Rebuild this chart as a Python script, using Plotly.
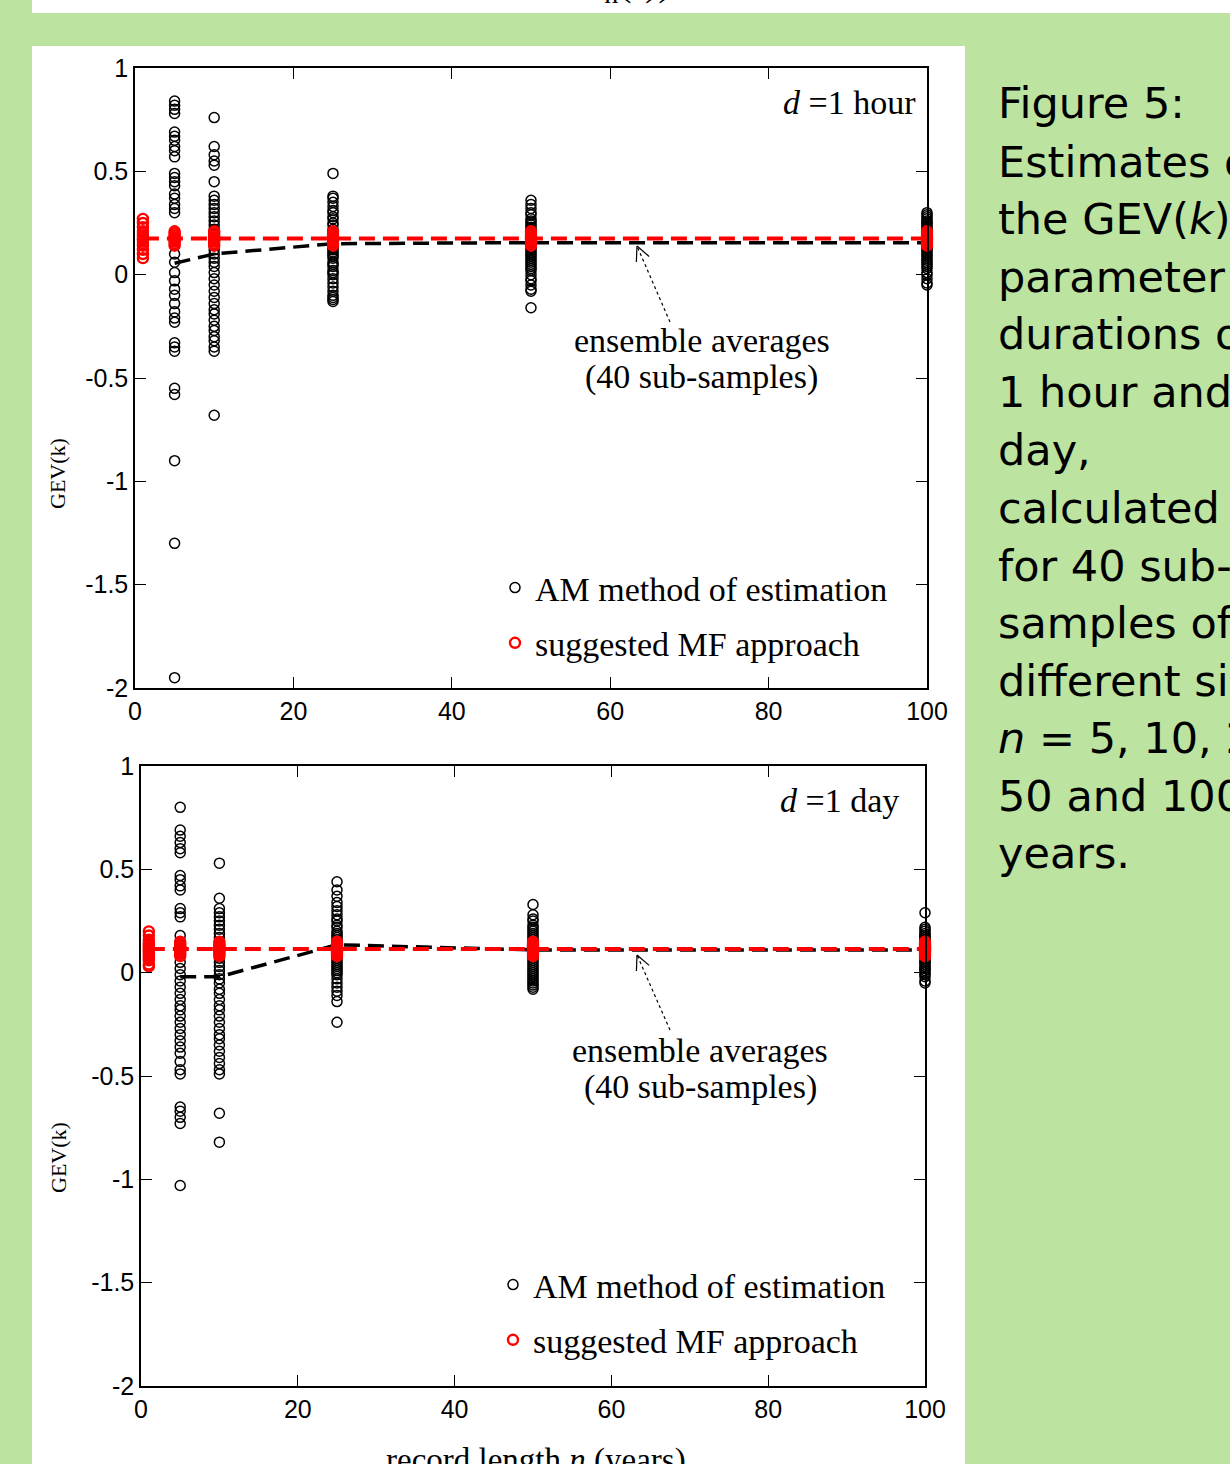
import math
import plotly.graph_objects as go

# ---------------- data ----------------
record_lengths = [5, 10, 25, 50, 100]
mf_extra_x = 1

# d = 1 hour : AM estimates of GEV(k) for 40 sub-samples at each record length
am_hour_n5 = [0.84, 0.82, 0.80, 0.78, 0.69, 0.67, 0.65, 0.62, 0.60, 0.57, 0.49, 0.47, 0.45, 0.43,
              0.39, 0.37, 0.34, 0.32, 0.30, 0.20, 0.18, 0.16, 0.10, 0.06, 0.01, -0.03, -0.07, -0.10,
              -0.14, -0.18, -0.21, -0.23, -0.33, -0.35, -0.37, -0.55, -0.58, -0.90, -1.30, -1.95]
am_hour_n10 = [0.76, 0.62, 0.58, 0.55, 0.53, 0.45, 0.38, 0.36, 0.34, 0.32, 0.30, 0.28, 0.26, 0.24,
               0.22, 0.20, 0.18, 0.16, 0.14, 0.12, 0.10, 0.08, 0.06, 0.04, 0.01, -0.02, -0.05, -0.08,
               -0.11, -0.14, -0.17, -0.19, -0.22, -0.25, -0.27, -0.30, -0.32, -0.35, -0.37, -0.68]
am_hour_n25 = [0.49, 0.38, 0.37, 0.35, 0.33, 0.31, 0.30, 0.28, 0.27, 0.25, 0.24, 0.22, 0.21, 0.20,
               0.19, 0.18, 0.17, 0.16, 0.15, 0.14, 0.13, 0.12, 0.11, 0.10, 0.09, 0.08, 0.06, 0.05,
               0.04, 0.02, 0.01, 0.00, -0.02, -0.04, -0.06, -0.08, -0.10, -0.11, -0.12, -0.13]
am_hour_n50 = [0.36, 0.34, 0.32, 0.30, 0.29, 0.27, 0.26, 0.25, 0.24, 0.23, 0.22, 0.21, 0.20, 0.19,
               0.18, 0.17, 0.17, 0.16, 0.15, 0.15, 0.14, 0.13, 0.12, 0.11, 0.10, 0.09, 0.08, 0.07,
               0.06, 0.05, 0.04, 0.03, 0.02, 0.00, -0.02, -0.03, -0.05, -0.07, -0.08, -0.16]
am_hour_n100 = [0.30, 0.29, 0.28, 0.27, 0.26, 0.25, 0.25, 0.24, 0.23, 0.22, 0.22, 0.21, 0.20, 0.20,
                0.19, 0.18, 0.18, 0.17, 0.16, 0.16, 0.15, 0.15, 0.14, 0.13, 0.13, 0.12, 0.11, 0.10,
                0.09, 0.08, 0.07, 0.06, 0.05, 0.04, 0.03, 0.01, 0.00, -0.02, -0.04, -0.05]
ens_avg_hour = [0.055, 0.10, 0.15, 0.155, 0.155]
mf_hour_x1 = [0.27, 0.25, 0.23, 0.21, 0.20, 0.19, 0.18, 0.17, 0.17, 0.16, 0.15, 0.14, 0.12, 0.10, 0.08]
mf_hour_at_n = [0.21, 0.20, 0.19, 0.18, 0.18, 0.17, 0.17, 0.16, 0.15, 0.14]
mf_line_hour = [0.175, 0.175, 0.175, 0.175, 0.175, 0.175]

# d = 1 day
am_day_n5 = [0.80, 0.69, 0.66, 0.63, 0.60, 0.58, 0.47, 0.45, 0.42, 0.40, 0.31, 0.29, 0.27, 0.18,
             0.15, 0.12, 0.05, 0.02, -0.01, -0.04, -0.07, -0.10, -0.13, -0.16, -0.18, -0.21, -0.24,
             -0.27, -0.30, -0.33, -0.36, -0.39, -0.43, -0.47, -0.49, -0.65, -0.67, -0.70, -0.73, -1.03]
am_day_n10 = [0.53, 0.36, 0.31, 0.29, 0.27, 0.25, 0.23, 0.21, 0.19, 0.17, 0.15, 0.13, 0.12, 0.11,
              0.09, 0.07, 0.05, 0.03, 0.01, -0.01, -0.03, -0.05, -0.08, -0.10, -0.13, -0.16, -0.18,
              -0.21, -0.24, -0.27, -0.30, -0.32, -0.35, -0.38, -0.41, -0.44, -0.47, -0.49, -0.68, -0.82]
am_day_n25 = [0.44, 0.40, 0.37, 0.34, 0.32, 0.30, 0.28, 0.26, 0.25, 0.23, 0.22, 0.20, 0.19, 0.18,
              0.17, 0.16, 0.15, 0.14, 0.13, 0.12, 0.11, 0.10, 0.09, 0.08, 0.07, 0.06, 0.05, 0.04,
              0.03, 0.02, 0.01, 0.00, -0.01, -0.03, -0.05, -0.07, -0.09, -0.11, -0.14, -0.24]
am_day_n50 = [0.33, 0.28, 0.26, 0.25, 0.23, 0.22, 0.21, 0.20, 0.19, 0.18, 0.17, 0.16, 0.15, 0.14,
              0.14, 0.13, 0.12, 0.12, 0.11, 0.10, 0.10, 0.09, 0.08, 0.08, 0.07, 0.06, 0.05, 0.04,
              0.03, 0.02, 0.01, 0.00, -0.01, -0.02, -0.03, -0.04, -0.05, -0.06, -0.07, -0.08]
am_day_n100 = [0.29, 0.22, 0.21, 0.20, 0.19, 0.18, 0.18, 0.17, 0.16, 0.16, 0.15, 0.15, 0.14, 0.14,
               0.13, 0.13, 0.12, 0.12, 0.11, 0.11, 0.10, 0.10, 0.09, 0.09, 0.08, 0.08, 0.07, 0.06,
               0.05, 0.05, 0.04, 0.03, 0.02, 0.02, 0.01, 0.00, -0.01, -0.02, -0.04, -0.05]
ens_avg_day = [-0.02, -0.02, 0.135, 0.11, 0.11]
mf_day_x1 = [0.20, 0.18, 0.16, 0.15, 0.14, 0.13, 0.12, 0.11, 0.10, 0.09, 0.08, 0.07, 0.06, 0.04, 0.03]
mf_day_at_n = [0.15, 0.14, 0.13, 0.12, 0.12, 0.11, 0.11, 0.10, 0.09, 0.08]
mf_line_day = [0.115, 0.115, 0.115, 0.115, 0.115, 0.115]

y_tickvals = [-2, -1.5, -1, -0.5, 0, 0.5, 1]
y_ticktext = ["-2", "-1.5", "-1", "-0.5", "0", "0.5", "1"]
x_tickvals = [0, 20, 40, 60, 80, 100]
x_ticktext = ["0", "20", "40", "60", "80", "100"]

side_text = ["Figure 5:", "Estimates of", "the GEV(<i>k</i>)", "parameter for", "durations of",
             "1 hour and 1", "day,", "calculated", "for 40 sub-", "samples of", "different sizes",
             "<i>n</i> = 5, 10, 25,", "50 and 100", "years."]

# ---------------- figure ----------------
W, H = 1230, 1464
def px(x): return x / W
def py(y): return 1 - y / H

SERIF = "Liberation Serif, Times New Roman, serif"
SANS = "Liberation Sans, Arial, sans-serif"
BG = "#bce3a0"

fig = go.Figure()

panels = [
    dict(am=[am_hour_n5, am_hour_n10, am_hour_n25, am_hour_n50, am_hour_n100],
         ens=ens_avg_hour, mf1=mf_hour_x1, mfn=mf_hour_at_n, mfl=mf_line_hour,
         xa="x", ya="y", legend="legend"),
    dict(am=[am_day_n5, am_day_n10, am_day_n25, am_day_n50, am_day_n100],
         ens=ens_avg_day, mf1=mf_day_x1, mfn=mf_day_at_n, mfl=mf_line_day,
         xa="x2", ya="y2", legend="legend2"),
]

for p in panels:
    xs, ys = [], []
    for n, vals in zip(record_lengths, p["am"]):
        xs += [n] * len(vals)
        ys += vals
    fig.add_trace(go.Scatter(
        x=xs, y=ys, mode="markers", name="AM method of estimation",
        marker=dict(symbol="circle-open", size=10, color="black", line=dict(width=1.5)),
        xaxis=p["xa"], yaxis=p["ya"], legend=p["legend"], legendgroup="am",
        cliponaxis=False))
    fig.add_trace(go.Scatter(
        x=record_lengths, y=p["ens"], mode="lines", showlegend=False,
        line=dict(color="black", width=3.5, dash="16px,8px"),
        xaxis=p["xa"], yaxis=p["ya"], cliponaxis=False))
    fig.add_trace(go.Scatter(
        x=[mf_extra_x] + record_lengths, y=p["mfl"], mode="lines", showlegend=False,
        line=dict(color="#ff0000", width=4, dash="16px,8px"),
        xaxis=p["xa"], yaxis=p["ya"], cliponaxis=False))
    mx, my = [mf_extra_x] * len(p["mf1"]), list(p["mf1"])
    for n in record_lengths:
        mx += [n] * len(p["mfn"])
        my += p["mfn"]
    fig.add_trace(go.Scatter(
        x=mx, y=my, mode="markers", name="suggested MF approach",
        marker=dict(symbol="circle-open", size=10, color="#ff0000", line=dict(width=2.4)),
        xaxis=p["xa"], yaxis=p["ya"], legend=p["legend"], legendgroup="mf",
        cliponaxis=False))

axis_common = dict(showline=True, linecolor="black", linewidth=1.5, mirror="ticks",
                   ticks="inside", ticklen=11, tickwidth=1.3, tickcolor="black",
                   showgrid=False, zeroline=False, automargin=False,
                   tickfont=dict(family=SANS, size=25, color="black"))

legend_common = dict(font=dict(family=SERIF, size=34, color="black"), bgcolor="rgba(0,0,0,0)",
                     traceorder="grouped", tracegroupgap=8, itemwidth=30,
                     xanchor="left", yanchor="top")

fig.update_layout(
    width=W, height=H, margin=dict(l=0, r=0, t=0, b=0, pad=0, autoexpand=False),
    paper_bgcolor=BG, plot_bgcolor="white",
    xaxis=dict(domain=[px(135), px(927)], anchor="y", range=[0, 100],
               tickvals=x_tickvals, ticktext=x_ticktext, **axis_common),
    yaxis=dict(domain=[py(688), py(68)], anchor="x", range=[-2, 1],
               tickvals=y_tickvals, ticktext=y_ticktext, **axis_common),
    xaxis2=dict(domain=[px(141), px(925)], anchor="y2", range=[0, 100],
                tickvals=x_tickvals, ticktext=x_ticktext, **axis_common),
    yaxis2=dict(domain=[py(1386), py(766)], anchor="x2", range=[-2, 1],
                tickvals=y_tickvals, ticktext=y_ticktext, **axis_common),
    legend=dict(x=px(495), y=py(559), **legend_common),
    legend2=dict(x=px(493), y=py(1256), **legend_common),
    showlegend=True,
)

shapes = [
    dict(type="rect", xref="paper", yref="paper", x0=px(32), x1=1, y0=py(13), y1=1,
         fillcolor="white", line=dict(width=0), layer="below"),
    dict(type="rect", xref="paper", yref="paper", x0=px(32), x1=px(965), y0=0, y1=py(46),
         fillcolor="white", line=dict(width=0), layer="below"),
]

def dotted_arrow(tip, tail):
    out = [dict(type="line", xref="paper", yref="paper",
                x0=px(tail[0]), y0=py(tail[1]), x1=px(tip[0]), y1=py(tip[1]),
                line=dict(color="black", width=1.2, dash="dot"))]
    dx, dy = tail[0] - tip[0], tail[1] - tip[1]
    L = math.hypot(dx, dy)
    ux, uy = dx / L, dy / L
    for ang in (0.45, -0.45):
        rx = ux * math.cos(ang) - uy * math.sin(ang)
        ry = ux * math.sin(ang) + uy * math.cos(ang)
        out.append(dict(type="line", xref="paper", yref="paper",
                        x0=px(tip[0]), y0=py(tip[1]),
                        x1=px(tip[0] + 16 * rx), y1=py(tip[1] + 16 * ry),
                        line=dict(color="black", width=1.2)))
    return out

shapes += dotted_arrow((637, 246), (670, 322))
shapes += dotted_arrow((637, 955), (670, 1030))
fig.update_layout(shapes=shapes)

ann = []
def text(x, y, s, size, family=SERIF, xanchor="center", yanchor="middle", angle=0, color="black"):
    ann.append(dict(x=px(x), y=py(y), xref="paper", yref="paper", text=s, showarrow=False,
                    xanchor=xanchor, yanchor=yanchor, textangle=angle,
                    font=dict(family=family, size=size, color=color)))

text(918, 103, "<i>d</i> =1 hour", 34, xanchor="right")
text(901, 800, "<i>d</i> =1 day", 34, xanchor="right")
text(702, 340, "ensemble averages", 34)
text(702, 377, "(40 sub-samples)", 34)
text(700, 1050, "ensemble averages", 34)
text(700, 1087, "(40 sub-samples)", 34)
text(58, 474, "GEV(k)", 22, angle=-90)
text(58, 1158, "GEV(k)", 22, angle=-90)
text(536, 1440, "record length <i>n</i> (years)", 33, yanchor="top")
text(627, -16, "S<sub>n</sub>(·))", 40)

side_y = [103, 162, 219, 277, 334, 392, 450, 508, 566, 623, 681, 738, 796, 853]
for s, yy in zip(side_text, side_y):
    text(996, yy, s, 43, family="DejaVu Sans, sans-serif", xanchor="left")

fig.update_layout(annotations=ann)

page_fix = ("document.body.style.margin='0';document.body.style.padding='0';"
            "document.body.style.background='" + BG + "';"
            "document.documentElement.style.background='" + BG + "';"
            "document.body.style.overflow='hidden';")
fig.write_html("out.html", post_script=page_fix, config={"displayModeBar": False})
